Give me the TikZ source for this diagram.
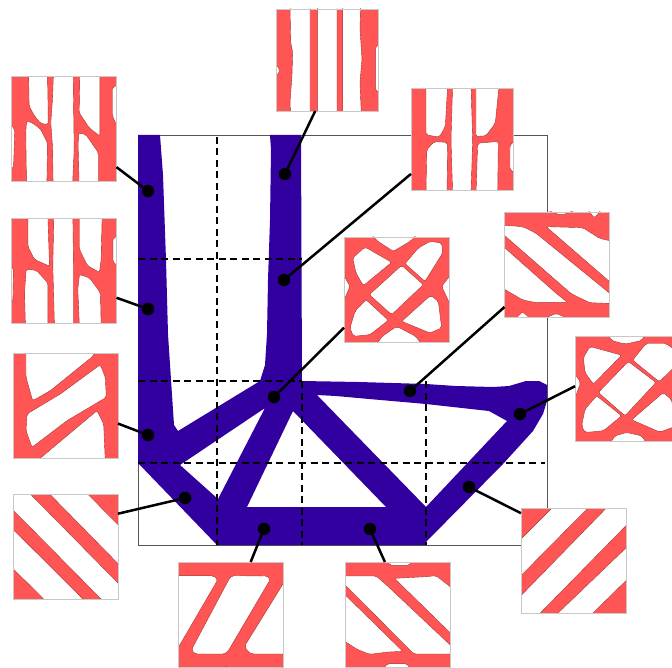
\documentclass[tikz,border=0pt]{standalone}
\usepackage{tikz}
\definecolor{beamblue}{HTML}{3300A0}
\definecolor{cellred}{HTML}{FF5555}
\definecolor{celledge}{HTML}{A82828}
\definecolor{cellgrey}{HTML}{C8C8C8}
\definecolor{framegrey}{HTML}{555555}
\newcommand{\cellhole}[1]{\filldraw[holeline,rounded corners=2pt] plot[sharp cycle] coordinates {#1};}
\newcommand{\cellshape}[2]{%
  \begin{scope}
    \clip (#1.north west) rectangle (#1.south east);
    \begin{scope}[shift={(#1.north west)},x=0.3333pt,y=-0.3333pt]
      #2
    \end{scope}
  \end{scope}
  \draw[cellframe] (#1.north west) rectangle (#1.south east);}

\begin{document}
\begin{tikzpicture}[x=1pt,y=-1pt,
  cell/.style={rectangle, fill=cellred, minimum size=105pt, inner sep=0pt, outer sep=0pt},
  smallcell/.style={cell, minimum size=102pt},
  holeline/.style={fill=white, draw=celledge, line width=0.4pt},
  cellframe/.style={draw=cellgrey, line width=0.7pt},
  grid/.style={black, line width=1.2pt, dash pattern=on 7pt off 4.5pt},
  dot/.style={circle, fill=black, minimum size=12.5pt, inner sep=0pt},
  link/.style={black, line width=2.5pt}]
\useasboundingbox (0,0) rectangle (672,668);
\fill[white] (0,0) rectangle (672,668);

\draw[framegrey, line width=0.9pt] (138,135) rectangle (547,545);

\fill[beamblue, even odd rule]
  (138,135) -- (160,135) -- (163,175) -- (166,260) -- (168,334) -- (174,425) -- (178,431) -- (260,381)
  -- (265,365) -- (267,334) -- (268,280) -- (270,220) -- (271,150) -- (270,135) -- (301,135) -- (302,381)
  -- (359,382) -- (426,384) -- (456,386) -- (493,387) -- (509,386) -- (526,381) -- (539,381) -- (547,385)
  -- (547,401) -- (543,414) -- (533,431) -- (503,464) -- (426,542) -- (426,545) -- (217,545) -- (138,463) -- cycle
  (180,465) -- (265,408) -- (218,499) -- cycle
  (293,411) -- (247,507) -- (386,507) -- cycle
  (317,395) -- (336,396) -- (369,399) -- (426,404) -- (489,411) -- (507,421) -- (426,507) -- cycle;

\draw[grid] (138,259) -- (302,259);
\draw[grid] (138,381) -- (302,381);
\draw[grid] (138,463) -- (545,463);
\draw[grid] (217,137) -- (217,545);
\draw[grid] (302,381) -- (302,545);
\draw[grid] (426,381) -- (426,545);

\node[smallcell] (celltop) at (327,60) {};
\node[cell] (cellA) at (64,129) {};
\node[cell] (cellB) at (64,271) {};
\node[cell] (cellC) at (65.5,405.5) {};
\node[cell] (cellD) at (65.5,546.5) {};
\node[cell] (cellE) at (230.5,614.5) {};
\node[cell] (cellF) at (398,614.5) {};
\node[cell] (cellG) at (573.5,560.5) {};
\node[cell] (cellH) at (627.5,389) {};
\node[cell] (cellI) at (557,264.5) {};
\node[smallcell] (cellJ) at (462,139.5) {};
\node[cell] (cellK) at (396.5,289.5) {};

\cellshape{celltop}{
  \cellhole{(42,-12) (44,100) (50,130) (48,200) (42,280) (44,318) (102,318) (102,-12)}
  \cellhole{(124,-12) (183,-12) (183,318) (124,318)}
  \cellhole{(200,-12) (254,-12) (252,60) (258,150) (252,220) (256,318) (200,318)}
  \cellhole{(-12,165) (8,172) (10,195) (-12,200)}
  \cellhole{(318,105) (298,112) (298,245) (318,252)}
}
\cellshape{cellA}{
  \cellhole{(51,-12) (53,89) (70,120) (88,141) (110,144) (110,109) (108,-12)}
  \cellhole{(45,134) (63,139) (88,159) (108,199) (106,328) (45,328) (43,169)}
  \cellhole{(126,-12) (123,69) (118,139) (123,209) (125,328) (183,328) (188,219) (185,-12)}
  \cellhole{(205,-12) (203,109) (233,154) (265,179) (265,-12)}
  \cellhole{(201,169) (223,174) (261,229) (261,328) (203,328) (200,209)}
  \cellhole{(328,25) (303,31) (303,119) (328,174)}
  \cellhole{(-12,130) (10,160) (6,275) (-12,285)}
}
\cellshape{cellB}{
  \cellhole{(49,-12) (49,83) (69,123) (114,143) (109,-12)}
  \cellhole{(44,153) (74,155) (109,193) (109,328) (42,328) (39,223)}
  \cellhole{(127,-12) (124,143) (129,328) (186,328) (186,143) (184,-12)}
  \cellhole{(204,-12) (204,93) (229,143) (264,161) (269,123) (272,-12)}
  \cellhole{(204,168) (234,178) (267,223) (269,328) (204,328) (199,213)}
  \cellhole{(328,52) (304,58) (304,130) (328,150)}
  \cellhole{(-12,130) (6,150) (4,250) (-12,255)}
}
\cellshape{cellC}{
  \cellhole{(39,-12) (39,73) (59,143) (112,113) (242,8) (247,-12)}
  \cellhole{(42,183) (142,123) (262,35) (277,73) (280,133) (162,203) (57,283) (39,233)}
  \cellhole{(67,328) (252,173) (272,213) (277,328)}
}
\cellshape{cellD}{
  \filldraw[holeline] (47,-5) -- (-5,-5) -- (-5,43) -- (269,320) -- (320,320) -- (320,272) -- cycle;
  \filldraw[holeline] (105,-5) -- (219,-5) -- (320,97) -- (320,214) -- cycle;
  \filldraw[holeline] (-5,101) -- (215,320) -- (97,320) -- (-5,219) -- cycle;
}
\cellshape{cellE}{
  \cellhole{(-12,41) (105,41) (120,52) (0,258) (-12,258)}
  \cellhole{(162,41) (268,42) (277,52) (150,268) (140,276) (52,276) (40,264) (155,48)}
  \cellhole{(328,45) (200,252) (208,268) (222,276) (328,276)}
  \cellhole{(155,-12) (170,4) (185,-12)}
  \cellhole{(130,328) (145,310) (160,328)}
}
\cellshape{cellF}{
  \cellhole{(147,49) (242,44) (272,41) (328,85) (328,226)}
  \cellhole{(-12,42) (92,42) (122,68) (328,262) (328,276) (205,276) (-12,58)}
  \cellhole{(-12,88) (172,268) (130,270) (72,277) (35,262) (-12,232)}
  \cellhole{(120,-12) (135,11) (190,11) (204,-12)}
  \cellhole{(110,328) (125,305) (185,305) (198,328)}
}
\cellshape{cellG}{
  \filldraw[holeline] (261,-5) -- (320,-5) -- (320,48) -- (53,320) -- (-5,320) -- (-5,268) -- cycle;
  \filldraw[holeline] (98,-5) -- (206,-5) -- (-5,208) -- (-5,98) -- cycle;
  \filldraw[holeline] (320,115) -- (320,213) -- (211,320) -- (106,320) -- cycle;
}
\cellshape{cellH}{
  \cellhole{(160,75) (243,138) (150,238) (70,168)}
  \cellhole{(45,30) (140,56) (55,143) (30,108) (25,63)}
  \cellhole{(173,71) (213,21) (273,21) (300,40) (295,95) (253,136)}
  \cellhole{(65,178) (140,238) (85,283) (30,288) (20,268) (30,218)}
  \cellhole{(265,168) (290,190) (300,270) (255,287) (170,250)}
  \cellhole{(95,-12) (110,12) (150,23) (200,12) (215,-12)}
  \cellhole{(100,328) (120,298) (155,288) (200,298) (220,328)}
  \cellhole{(-12,95) (17,138) (-12,218)}
  \cellhole{(328,120) (288,165) (328,210)}
}
\cellshape{cellI}{
  \cellhole{(125,44) (235,47) (285,79) (328,89) (328,220)}
  \cellhole{(-12,39) (55,44) (95,64) (328,254) (328,275) (255,272) (200,245) (-12,60)}
  \cellhole{(-12,96) (155,244) (190,272) (95,272) (55,264) (-12,225)}
  \cellhole{(110,-12) (170,10) (230,-12)}
  \cellhole{(245,-12) (270,18) (295,-12)}
  \cellhole{(25,328) (55,299) (85,328)}
  \cellhole{(100,328) (155,304) (210,328)}
}
\cellshape{cellJ}{
  \cellhole{(45,-12) (45,139) (85,146) (103,114) (110,-12)}
  \cellhole{(45,318) (47,184) (70,159) (110,162) (108,318)}
  \cellhole{(125,-12) (120,154) (125,318) (180,318) (185,154) (180,-12)}
  \cellhole{(195,-12) (195,144) (225,142) (253,104) (262,14) (265,-12)}
  \cellhole{(200,164) (262,159) (260,318) (195,318)}
  \cellhole{(-12,50) (3,60) (3,135) (-12,145)}
  \cellhole{(318,150) (297,170) (297,245) (318,255)}
}
\cellshape{cellK}{
  \cellhole{(173,85) (238,143) (143,233) (76,173)}
  \cellhole{(63,30) (143,76) (58,146) (36,108) (26,63)}
  \cellhole{(258,13) (293,18) (296,48) (243,133) (183,80) (223,33)}
  \cellhole{(66,188) (133,250) (78,293) (28,298) (18,273) (33,223)}
  \cellhole{(260,175) (283,193) (293,273) (258,288) (173,253)}
  \cellhole{(78,-12) (100,12) (148,43) (200,12) (223,-12)}
  \cellhole{(93,328) (115,298) (158,268) (215,298) (238,328)}
  \cellhole{(-12,95) (18,148) (-12,218)}
  \cellhole{(328,103) (293,148) (328,223)}
}

\node[dot] (dottop) at (285,174) {};
\node[dot] (dotA) at (148,191) {};
\node[dot] (dotB) at (148,309) {};
\node[dot] (dotC) at (148,435) {};
\node[dot] (dotD) at (185,498) {};
\node[dot] (dotE) at (264,529) {};
\node[dot] (dotF) at (370,529) {};
\node[dot] (dotG) at (469,487) {};
\node[dot] (dotH) at (520,414) {};
\node[dot] (dotI) at (410,391) {};
\node[dot] (dotJ) at (284,280) {};
\node[dot] (dotK) at (274,397) {};

\draw[link] (dottop) -- (celltop.-103);
\draw[link] (dotA) -- (cellA.-36);
\draw[link] (dotB) -- (cellB.-27);
\draw[link] (dotC) -- (cellC.-19);
\draw[link] (dotD) -- (cellD.32);
\draw[link] (dotE) -- (cellE.69);
\draw[link] (dotF) -- (cellF.104);
\draw[link] (dotG) -- (cellG.138);
\draw[link] (dotH) -- (cellH.177);
\draw[link] (dotI) -- (cellI.219);
\draw[link] (dotJ) -- (cellJ.214);
\draw[link] (dotK) -- (cellK.216);
\end{tikzpicture}
\end{document}
